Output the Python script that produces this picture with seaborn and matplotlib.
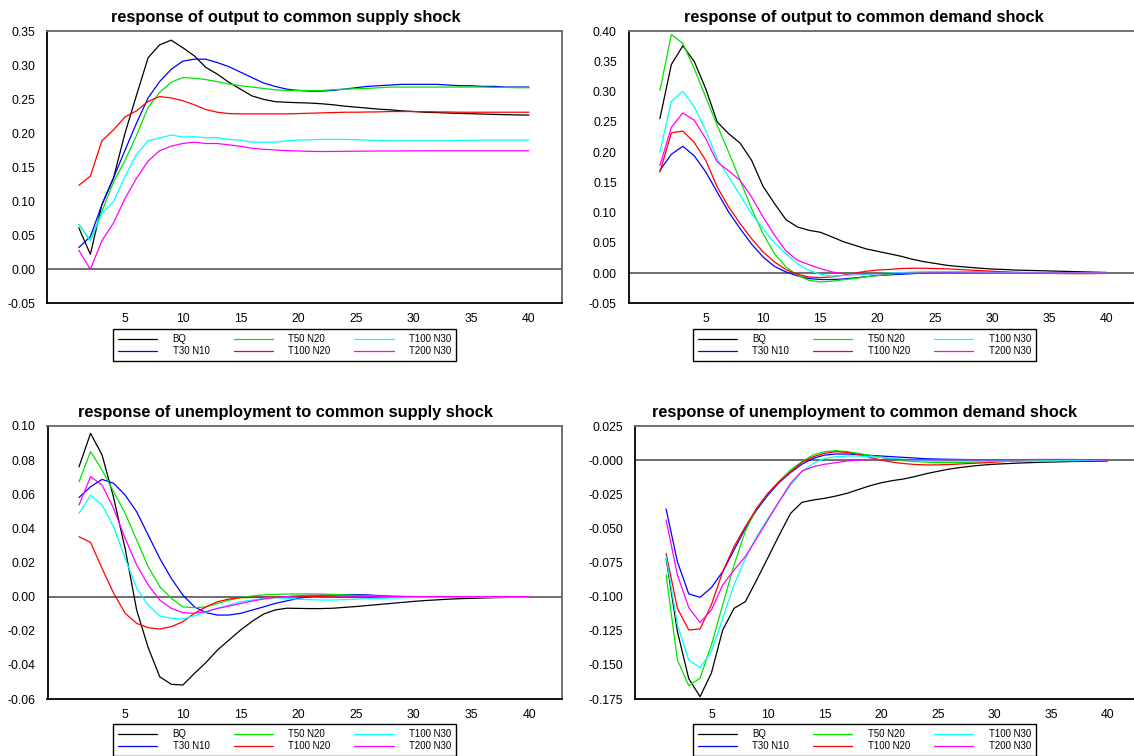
# impulse responses: output / unemployment to common supply & demand shocks
import matplotlib
matplotlib.use('Agg')
import matplotlib.pyplot as plt
from matplotlib.ticker import FixedLocator, MultipleLocator
import pandas as pd
import seaborn as sns

horizon = list(range(1, 41))
models = ['BQ', 'T30 N10', 'T50 N20', 'T100 N20', 'T100 N30', 'T200 N30']
colors = ['#000000', '#0000ff', '#00e600', '#ff0000', '#00ffff', '#ff00ff']

# --- output / supply shock ---
out_sup_bq = [.061, .022, .095, .134, .200, .256, .311, .330, .337, .326, .314, .297, .287, .275, .265, .255, .250, .2466, .2456, .245,
              .2445, .2435, .242, .240, .2385, .237, .2355, .2345, .233, .232, .231, .2305, .2298, .2292, .2288, .2283, .2278, .2274, .227, .2268]
out_sup_t30 = [.032, .048, .095, .134, .175, .215, .252, .276, .294, .306, .309, .309, .304, .298, .290, .282, .274, .269, .265, .263,
               .262, .262, .263, .265, .267, .269, .270, .271, .272, .272, .272, .272, .271, .270, .270, .269, .269, .268, .268, .268]
out_sup_t50 = [.066, .042, .085, .128, .160, .197, .238, .260, .275, .282, .281, .279, .276, .2725, .270, .268, .266, .264, .263, .263,
               .263, .263, .264, .265, .2655, .266, .267, .268, .268, .268, .268, .268, .268, .268, .268, .268, .2675, .2675, .267, .267]
out_sup_t100a = [.1235, .137, .189, .205, .224, .233, .247, .254, .252, .248, .242, .235, .231, .229, .2285, .2285, .2285, .2285, .2285, .229,
                 .2295, .230, .2305, .231, .231, .2313, .2315, .232, .232, .232, .2318, .2315, .2313, .231, .231, .231, .231, .231, .231, .231]
out_sup_t100b = [.066, .042, .082, .0995, .136, .169, .189, .193, .1975, .1946, .195, .1936, .1936, .191, .190, .187, .187, .187, .189, .190,
                 .1905, .191, .191, .191, .1905, .190, .1895, .189, .189, .189, .189, .189, .189, .1895, .1897, .190, .190, .190, .190, .190]
out_sup_t200 = [.028, .000, .042, .068, .104, .134, .159, .1745, .181, .185, .187, .185, .185, .183, .181, .178, .1765, .1755, .1745, .174,
                .1735, .1732, .1733, .1735, .1737, .1738, .174, .174, .174, .1742, .1743, .1743, .1743, .1743, .1743, .1743, .1743, .1743, .1743, .1743]

# --- output / demand shock ---
out_dem_bq = [.2555, .345, .376, .350, .305, .250, .2307, .215, .1866, .1436, .115, .0884, .0763, .0708, .0675, .060, .052, .046, .040, .036,
              .032, .028, .023, .019, .016, .013, .011, .0095, .008, .0066, .006, .005, .0045, .004, .0035, .003, .0025, .002, .0015, .001]
out_dem_t30 = [.170, .1966, .2098, .194, .1674, .134, .101, .0736, .048, .0267, .011, .002, -.0047, -.009, -.0107, -.0107, -.0097, -.008, -.006, -.004,
               -.003, -.002, -.001, .000, .0005, .0008, .001, .001, .001, .001, .001, .001, .0008, .0007, .0006, .0005, .0004, .0003, .0002, .0001]
out_dem_t50 = [.302, .3946, .380, .338, .291, .2445, .200, .1535, .1066, .065, .032, .010, -.0036, -.012, -.0147, -.0136, -.011, -.009, -.006, -.004,
               -.002, .000, .001, .0015, .002, .0025, .0025, .002, .002, .0015, .0015, .001, .001, .0008, .0006, .0005, .0004, .0003, .0002, .0001]
out_dem_t100a = [.167, .232, .235, .216, .1866, .1425, .1094, .082, .057, .035, .0184, .0058, -.002, -.0064, -.0075, -.0064, -.0036, .000, .003, .005,
                 .006, .0075, .008, .008, .0075, .007, .006, .005, .004, .003, .002, .001, .0005, .000, -.0005, -.0008, -.001, -.001, -.0008, -.0005]
out_dem_t100b = [.200, .284, .3007, .275, .236, .189, .159, .129, .098, .0736, .050, .032, .0157, .0046, -.002, -.005, -.004, -.003, -.002, -.001,
                 .000, .001, .0015, .002, .002, .002, .0018, .0015, .0012, .001, .0008, .0006, .0005, .0004, .0003, .0002, .0001, .0001, .000, .000]
out_dem_t200 = [.178, .241, .265, .2528, .2225, .184, .169, .1535, .126, .093, .0626, .0366, .0212, .014, .0074, .0019, -.0009, -.001, -.001, -.001,
                -.0008, -.0005, -.0003, .000, .000, .000, .000, .000, .000, .000, .000, .000, .000, .000, .000, .000, .000, .000, .000, .000]

# --- unemployment / supply shock ---
un_sup_bq = [.0761, .0957, .083, .058, .028, -.008, -.030, -.047, -.0514, -.0518, -.045, -.0386, -.0313, -.0254, -.0196, -.0145, -.0102, -.0078, -.0068, -.0069,
             -.007, -.007, -.0068, -.0063, -.0058, -.0052, -.0046, -.004, -.0034, -.0028, -.0023, -.0019, -.0015, -.0012, -.001, -.0008, -.0006, -.0005, -.0004, -.0003]
un_sup_t30 = [.0581, .0644, .0687, .0664, .0595, .0497, .036, .0224, .0107, .0009, -.006, -.0094, -.0108, -.0108, -.0098, -.0079, -.006, -.004, -.0025, -.001,
              .000, .0007, .001, .0012, .0012, .001, .0006, .0003, .0001, .000, .000, .000, .000, .000, .000, .000, .000, .000, .000, .000]
un_sup_t50 = [.0673, .085, .0742, .0615, .0488, .0331, .0175, .0058, -.001, -.006, -.0065, -.006, -.004, -.002, -.0006, .0004, .001, .0013, .0015, .0016,
              .0016, .0015, .0013, .001, .0008, .0005, .0003, .0002, .0001, .000, .000, .000, .000, .000, .000, .000, .000, .000, .000, .000]
un_sup_t100a = [.0351, .0318, .0165, .002, -.0098, -.0157, -.0182, -.019, -.0176, -.0147, -.0098, -.006, -.003, -.0014, -.0006, -.0005, -.0004, -.0003, .000, .0002,
                .0001, .000, -.0002, -.0004, -.0005, -.0005, -.0005, -.0004, -.0003, -.0003, -.0002, -.0001, .000, .000, .000, .000, .000, .000, .000, .000]
un_sup_t100b = [.0488, .0595, .0537, .041, .0224, .0048, -.005, -.0114, -.0127, -.0131, -.0112, -.0092, -.0069, -.005, -.003, -.002, -.001, -.0007, -.001, -.0015,
                -.0018, -.002, -.002, -.0018, -.0015, -.0012, -.001, -.0008, -.0007, -.0005, -.0005, -.0004, -.0004, -.0003, -.0003, -.0003, -.0003, -.0003, -.0003, -.0003]
un_sup_t200 = [.0537, .0703, .0654, .0517, .0341, .0185, .0068, -.002, -.0069, -.0094, -.0098, -.0088, -.0069, -.0055, -.004, -.0026, -.0014, -.0005, .000, .0005,
               .0008, .0008, .0006, .0004, .0003, .0002, .0001, .000, .000, .000, .000, .000, .000, .000, .000, .000, .000, .000, .000, .000]

# --- unemployment / demand shock ---
un_dem_bq = [-.0719, -.1256, -.160, -.1733, -.156, -.1245, -.1086, -.1037, -.0878, -.0714, -.0548, -.039, -.0309, -.0292, -.028, -.0263, -.0243, -.0215, -.0188, -.0166,
             -.015, -.0138, -.012, -.0099, -.0082, -.0066, -.0054, -.0044, -.0036, -.003, -.0026, -.0022, -.0019, -.0016, -.0014, -.0012, -.001, -.0009, -.0008, -.0007]
un_dem_t30 = [-.0358, -.0744, -.098, -.1005, -.0934, -.0817, -.0658, -.050, -.0365, -.0256, -.0163, -.009, -.003, .0013, .0037, .0045, .0045, .004, .0035, .003,
              .0025, .002, .0015, .001, .0008, .0006, .0005, .0004, .0003, .0003, .0002, .0002, .0001, .0001, .0001, .0001, .000, .000, .000, .000]
un_dem_t50 = [-.0841, -.1464, -.1653, -.1598, -.1354, -.106, -.0769, -.052, -.0353, -.0243, -.0153, -.0072, -.0011, .0038, .0062, .0069, .0062, .005, .0035, .002,
              .0005, -.0005, -.001, -.0015, -.0018, -.0018, -.0017, -.0015, -.0012, -.001, -.0008, -.0006, -.0005, -.0004, -.0003, -.0003, -.0002, -.0002, -.0002, -.0002]
un_dem_t100a = [-.0684, -.1086, -.1244, -.1237, -.106, -.0817, -.0634, -.0487, -.0353, -.0243, -.0158, -.0085, -.0016, .0025, .005, .0062, .0057, .004, .002, .000,
                -.0015, -.0025, -.0032, -.0035, -.0035, -.0032, -.0028, -.0024, -.002, -.0015, -.001, -.0006, -.0002, .000, .0002, .0003, .0003, .0002, .0001, .000]
un_dem_t100b = [-.0707, -.1208, -.1464, -.152, -.1403, -.1159, -.0915, -.072, -.056, -.0426, -.0304, -.0182, -.0085, -.0024, .0013, .0025, .003, .003, .0025, .002,
                .0012, .0005, .000, -.0005, -.0008, -.0008, -.0008, -.0008, -.0008, -.0008, -.0007, -.0006, -.0006, -.0005, -.0005, -.0004, -.0004, -.0003, -.0003, -.0003]
un_dem_t200 = [-.0438, -.0841, -.108, -.119, -.1098, -.0915, -.0805, -.0707, -.0573, -.0438, -.030, -.017, -.008, -.0048, -.003, -.0019, -.0006, .000, .0005, .0005,
               .0005, .0004, .0004, .0003, .0003, .0003, .0003, .0003, .0003, .0003, .0003, .0003, .0004, .0005, .0005, .0005, .0005, .0003, .0002, .000]

titles = ['response of output to common supply shock',
          'response of output to common demand shock',
          'response of unemployment to common supply shock',
          'response of unemployment to common demand shock']

ticks_out_sup = [-0.05, 0.0, 0.05, 0.10, 0.15, 0.20, 0.25, 0.30, 0.35]
labels_out_sup = ['-0.05', '0.00', '0.05', '0.10', '0.15', '0.20', '0.25', '0.30', '0.35']
ticks_out_dem = [-0.05, 0.0, 0.05, 0.10, 0.15, 0.20, 0.25, 0.30, 0.35, 0.40]
labels_out_dem = ['-0.05', '0.00', '0.05', '0.10', '0.15', '0.20', '0.25', '0.30', '0.35', '0.40']
ticks_un_sup = [-0.06, -0.04, -0.02, 0.0, 0.02, 0.04, 0.06, 0.08, 0.10]
labels_un_sup = ['-0.06', '-0.04', '-0.02', '0.00', '0.02', '0.04', '0.06', '0.08', '0.10']
ticks_un_dem = [-0.175, -0.150, -0.125, -0.100, -0.075, -0.050, -0.025, 0.0, 0.025]
labels_un_dem = ['-0.175', '-0.150', '-0.125', '-0.100', '-0.075', '-0.050', '-0.025', '-0.000', '0.025']


def panel_frame(series):
    """Tabla larga (horizonte, valor, modelo) para seaborn."""
    rows = []
    for m, serie in zip(models, series):
        for h, v in zip(horizon, serie):
            rows.append((h, v, m))
    return pd.DataFrame(rows, columns=['h', 'v', 'model'])


sns.set_style('white')
plt.rcParams['font.family'] = ['Liberation Sans', 'DejaVu Sans']
plt.rcParams['text.color'] = 'black'
plt.rcParams['xtick.color'] = 'black'
plt.rcParams['ytick.color'] = 'black'

fig = plt.figure(figsize=(11.34, 7.56), dpi=100)

W, H = 1134.0, 756.0
# (left, top, right, bottom) in pixels
boxes = [(47.3, 31.3, 561.7, 303.3),
         (628.6, 31.3, 1139.4, 303.3),
         (47.5, 426.0, 561.9, 699.0),
         (635.2, 426.0, 1139.7, 699.0)]
title_pos = [(285.5, 22.0), (864.3, 22.0), (285.0, 416.7), (864.6, 416.7)]
legend_pos = [(284.7, 345.0), (864.3, 345.0), (284.7, 740.0), (864.3, 740.0)]

panels = [
    ([out_sup_bq, out_sup_t30, out_sup_t50, out_sup_t100a, out_sup_t100b, out_sup_t200], ticks_out_sup, labels_out_sup),
    ([out_dem_bq, out_dem_t30, out_dem_t50, out_dem_t100a, out_dem_t100b, out_dem_t200], ticks_out_dem, labels_out_dem),
    ([un_sup_bq, un_sup_t30, un_sup_t50, un_sup_t100a, un_sup_t100b, un_sup_t200], ticks_un_sup, labels_un_sup),
    ([un_dem_bq, un_dem_t30, un_dem_t50, un_dem_t100a, un_dem_t100b, un_dem_t200], ticks_un_dem, labels_un_dem),
]

for i, (series, yt, yl) in enumerate(panels):
    l, t, r, b = boxes[i]
    ax = fig.add_axes([l / W, 1 - b / H, (r - l) / W, (b - t) / H])
    df = panel_frame(series)
    sns.lineplot(data=df, x='h', y='v', hue='model', hue_order=models,
                 palette=colors, linewidth=0.9, legend=False, ax=ax)
    handles = ax.get_lines()[:6]
    ax.axhline(0, color='#555555', linewidth=1.2, zorder=0)

    ax.set_xlim(-1.73, 42.84)
    ax.set_ylim(yt[0], yt[-1])
    ax.xaxis.set_major_locator(FixedLocator([5, 10, 15, 20, 25, 30, 35, 40]))
    ax.xaxis.set_minor_locator(MultipleLocator(1))
    ax.set_yticks(yt)
    ax.set_yticklabels(yl)
    ax.set_xlabel('')
    ax.set_ylabel('')
    ax.tick_params(axis='both', which='major', direction='out', length=4,
                   width=1.0, labelsize=8.8, color='black', labelcolor='black')
    ax.tick_params(axis='x', which='major', length=4.5, pad=2.5)
    ax.tick_params(axis='y', which='major', pad=4.5)
    ax.tick_params(axis='x', which='minor', direction='out', length=2.5,
                   width=1.0, color='black')
    for side in ['left', 'bottom']:
        ax.spines[side].set_color('black')
        ax.spines[side].set_linewidth(1.3)
    for side in ['top', 'right']:
        ax.spines[side].set_color('#666666')
        ax.spines[side].set_linewidth(1.3)

    tx, ty = title_pos[i]
    fig.text(tx / W, 1 - ty / H, titles[i], ha='center', va='baseline',
             fontsize=11.8, fontweight='bold', color='black')

    lx, ly = legend_pos[i]
    leg = fig.legend(handles, models, loc='center', ncol=3,
                     bbox_to_anchor=(lx / W, 1 - ly / H), fontsize=6.9,
                     handlelength=4.1, handletextpad=1.6, columnspacing=2.5,
                     labelspacing=0.22, borderpad=0.5, fancybox=False,
                     framealpha=1, edgecolor='black')
    leg.get_frame().set_linewidth(1.0)
    for txt in leg.get_texts():
        txt.set_color('black')

fig.savefig('out.png', dpi=100)
